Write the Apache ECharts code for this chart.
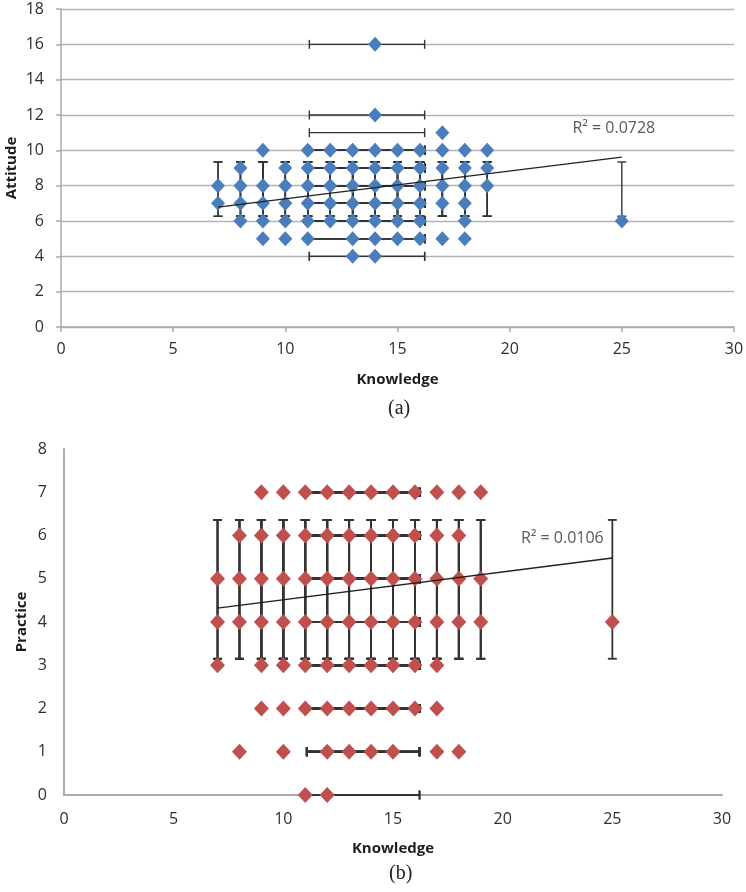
<!DOCTYPE html>
<html>
<head>
<meta charset="utf-8">
<script src="https://cdn.jsdelivr.net/npm/echarts@6/dist/echarts.min.js"></script>
<style>
html,body{margin:0;padding:0;background:#fff;}
#chart{width:746px;height:892px;}
</style>
</head>
<body>
<div id="chart"></div>
<script>
// ---------- DATA ----------
// (a) Knowledge vs Attitude – unique observed points
const attitudePoints = [
  [7,7],[7,8],
  [8,6],[8,7],[8,8],[8,9],
  [9,5],[9,6],[9,7],[9,8],[9,10],
  [10,5],[10,6],[10,7],[10,8],[10,9],
  [11,5],[11,6],[11,7],[11,8],[11,9],[11,10],
  [12,6],[12,7],[12,8],[12,9],[12,10],
  [13,4],[13,5],[13,6],[13,7],[13,8],[13,9],[13,10],
  [14,4],[14,5],[14,6],[14,7],[14,8],[14,9],[14,10],[14,12],[14,16],
  [15,5],[15,6],[15,7],[15,8],[15,9],[15,10],
  [16,5],[16,6],[16,7],[16,8],[16,9],[16,10],
  [17,5],[17,7],[17,8],[17,9],[17,10],[17,11],
  [18,5],[18,6],[18,7],[18,8],[18,9],[18,10],
  [19,8],[19,9],[19,10],
  [25,6]
];
// (b) Knowledge vs Practice – unique observed points
const practicePoints = [
  [7,3],[7,4],[7,5],
  [8,1],[8,4],[8,5],[8,6],
  [9,2],[9,3],[9,4],[9,5],[9,6],[9,7],
  [10,1],[10,2],[10,3],[10,4],[10,5],[10,6],[10,7],
  [11,0],[11,2],[11,3],[11,4],[11,5],[11,6],[11,7],
  [12,0],[12,1],[12,2],[12,3],[12,4],[12,5],[12,6],[12,7],
  [13,1],[13,2],[13,3],[13,4],[13,5],[13,6],[13,7],
  [14,1],[14,2],[14,3],[14,4],[14,5],[14,6],[14,7],
  [15,1],[15,2],[15,3],[15,4],[15,5],[15,6],[15,7],
  [16,2],[16,3],[16,4],[16,5],[16,6],[16,7],
  [17,1],[17,2],[17,3],[17,4],[17,5],[17,6],[17,7],
  [18,1],[18,4],[18,5],[18,6],[18,7],
  [19,4],[19,5],[19,7],
  [25,4]
];
// Error bar ranges (mean ± SD, as drawn)
const knowledgeErrRange = [11.07, 16.21];
const attitudeErrRange = [6.27, 9.34];
const practiceErrRange = [3.15, 6.36];
// Linear trendline end points
const attitudeTrend = [[7, 6.79], [25, 9.62]];
const practiceTrend = [[7, 4.32], [25, 5.48]];
const attitudeR2 = 'R² = 0.0728';
const practiceR2 = 'R² = 0.0106';

// ---------- CHART ----------
const FONT = '"Open Sans", "Liberation Sans", sans-serif';
const chart = echarts.init(document.getElementById('chart'), null, {renderer: 'canvas'});

function errRender(xr, yr, cap, lw) {
  return function (params, api) {
    const x = api.value(0), y = api.value(1);
    const pL = api.coord([xr[0], y]), pR = api.coord([xr[1], y]);
    const pT = api.coord([x, yr[1]]), pB = api.coord([x, yr[0]]);
    const st = {stroke: '#333333', lineWidth: lw};
    const h = cap / 2;
    const ln = (x1, y1, x2, y2) => ({type: 'line', shape: {x1, y1, x2, y2}, style: st});
    return {
      type: 'group',
      children: [
        ln(pL[0], pL[1], pR[0], pR[1]),
        ln(pL[0], pL[1] - h, pL[0], pL[1] + h),
        ln(pR[0], pR[1] - h, pR[0], pR[1] + h),
        ln(pT[0], pT[1], pB[0], pB[1]),
        ln(pT[0] - h, pT[1], pT[0] + h, pT[1]),
        ln(pB[0] - h, pB[1], pB[0] + h, pB[1])
      ]
    };
  };
}

const gray = '#ababab';
const labelStyle = {color: '#2e2e2e', fontSize: 16, fontFamily: FONT};
const nameStyle = {color: '#1e1e1e', fontSize: 15, fontWeight: 'bold', fontFamily: FONT};

const option = {
  animation: false,
  textStyle: {fontFamily: FONT},
  grid: [
    {left: 61, top: 9, width: 673, height: 318, containLabel: false, outerBoundsMode: 'none'},
    {left: 64, top: 449, width: 658, height: 346, containLabel: false, outerBoundsMode: 'none'}
  ],
  xAxis: [
    {
      gridIndex: 0, type: 'value', min: 0, max: 30, interval: 5,
      name: 'Knowledge', nameLocation: 'middle', nameGap: 45, nameMoveOverlap: false,
      nameTextStyle: nameStyle,
      axisLine: {show: true, lineStyle: {color: gray, width: 1.5}},
      axisTick: {show: true, length: 5, lineStyle: {color: gray, width: 1.5}},
      axisLabel: Object.assign({margin: 14}, labelStyle),
      splitLine: {show: false}
    },
    {
      gridIndex: 1, type: 'value', min: 0, max: 30, interval: 5,
      name: 'Knowledge', nameLocation: 'middle', nameGap: 46, nameMoveOverlap: false,
      nameTextStyle: nameStyle,
      axisLine: {show: true, lineStyle: {color: gray, width: 2}},
      axisTick: {show: false},
      axisLabel: Object.assign({margin: 16}, labelStyle),
      splitLine: {show: false}
    }
  ],
  yAxis: [
    {
      gridIndex: 0, type: 'value', min: 0, max: 18, interval: 2,
      name: 'Attitude', nameLocation: 'middle', nameGap: 42, nameMoveOverlap: false,
      nameTextStyle: nameStyle,
      axisLine: {show: true, lineStyle: {color: gray, width: 1.5}},
      axisTick: {show: true, length: 5, lineStyle: {color: gray, width: 1.5}},
      axisLabel: Object.assign({margin: 17}, labelStyle),
      splitLine: {show: true, lineStyle: {color: '#b3b3b3', width: 1.3}}
    },
    {
      gridIndex: 1, type: 'value', min: 0, max: 8, interval: 1,
      name: 'Practice', nameLocation: 'middle', nameGap: 35, nameMoveOverlap: false,
      nameTextStyle: nameStyle,
      axisLine: {show: true, lineStyle: {color: gray, width: 2}},
      axisTick: {show: false},
      axisLabel: Object.assign({margin: 17}, labelStyle),
      splitLine: {show: false}
    }
  ],
  series: [
    {
      type: 'custom', xAxisIndex: 0, yAxisIndex: 0, z: 1, silent: true,
      renderItem: errRender(knowledgeErrRange, attitudeErrRange, 9, 1.4),
      data: attitudePoints
    },
    {
      type: 'scatter', xAxisIndex: 0, yAxisIndex: 0, z: 2, silent: true,
      symbol: 'diamond', symbolSize: [14, 15],
      itemStyle: {color: '#4a7ebb', opacity: 1},
      data: attitudePoints
    },
    {
      type: 'line', xAxisIndex: 0, yAxisIndex: 0, z: 3, silent: true,
      showSymbol: false, symbol: 'none',
      lineStyle: {color: '#1f1f1f', width: 1.3},
      data: attitudeTrend
    },
    {
      type: 'scatter', xAxisIndex: 0, yAxisIndex: 0, z: 4, silent: true,
      symbolSize: 0,
      label: {show: true, position: 'inside', offset: [-8, -29], formatter: attitudeR2,
              color: '#2e2e2e', fontSize: 16, fontFamily: FONT},
      data: [attitudeTrend[1]]
    },
    {
      type: 'custom', xAxisIndex: 1, yAxisIndex: 1, z: 1, silent: true,
      renderItem: errRender(knowledgeErrRange, practiceErrRange, 9, 1.8),
      data: practicePoints
    },
    {
      type: 'scatter', xAxisIndex: 1, yAxisIndex: 1, z: 2, silent: true,
      symbol: 'diamond', symbolSize: [15, 16],
      itemStyle: {color: '#c0504d', opacity: 1},
      data: practicePoints
    },
    {
      type: 'line', xAxisIndex: 1, yAxisIndex: 1, z: 3, silent: true,
      showSymbol: false, symbol: 'none',
      lineStyle: {color: '#1f1f1f', width: 1.3},
      data: practiceTrend
    },
    {
      type: 'scatter', xAxisIndex: 1, yAxisIndex: 1, z: 4, silent: true,
      symbolSize: 0,
      label: {show: true, position: 'inside', offset: [-50, -20], formatter: practiceR2,
              color: '#2e2e2e', fontSize: 16, fontFamily: FONT},
      data: [practiceTrend[1]]
    }
  ],
  graphic: [
    {type: 'text', left: 388, top: 399,
     style: {text: '(a)', font: '20px "Liberation Serif", "DejaVu Serif", serif', fill: '#222'}},
    {type: 'text', left: 389, top: 864,
     style: {text: '(b)', font: '20px "Liberation Serif", "DejaVu Serif", serif', fill: '#222'}}
  ]
};
chart.setOption(option);
</script>
</body>
</html>
